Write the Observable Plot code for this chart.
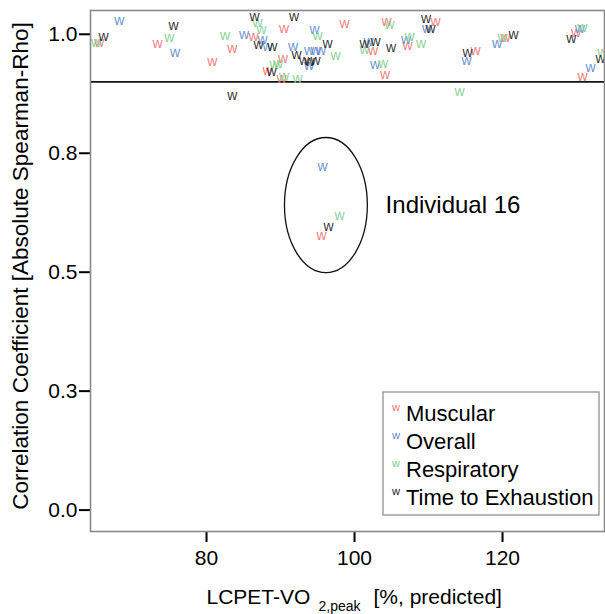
<!DOCTYPE html>
<html><head><meta charset="utf-8">
<script src="https://cdn.jsdelivr.net/npm/d3@7"></script>
<script src="https://cdn.jsdelivr.net/npm/@observablehq/plot@0.6"></script>
<style>
body{margin:0;background:#fff;}
#chart svg{font-family:"Liberation Sans",Arial,sans-serif;}
</style></head><body><div id="chart"></div>
<script>
// ---- data ----
const seriesNames = ["Muscular", "Overall", "Respiratory", "Time to Exhaustion"];
const seriesColors = ["#F07272", "#5B88CF", "#80CC8D", "#1a1a1a"];

const muscularX = [65.50, 73.38, 80.77, 83.47, 86.35, 88.24, 90.34, 90.47, 90.14, 98.65, 104.32, 102.50, 104.12, 107.16, 110.95, 116.35, 120.41, 129.93, 130.81, 95.54];
const muscularY = [0.983, 0.980, 0.942, 0.971, 0.995, 0.923, 0.950, 1.013, 0.908, 1.022, 1.027, 0.966, 0.915, 0.976, 1.026, 0.965, 0.994, 1.004, 0.912, 0.578];

const overallX = [68.20, 75.74, 85.07, 87.57, 88.24, 91.69, 93.85, 94.73, 95.47, 94.59, 93.85, 101.89, 102.77, 106.96, 109.80, 115.14, 119.26, 130.45, 131.89, 95.68];
const overallY = [1.028, 0.961, 0.999, 0.990, 0.975, 0.974, 0.966, 0.966, 0.966, 1.010, 0.934, 0.984, 0.936, 0.990, 1.012, 0.944, 0.981, 1.012, 0.930, 0.723];

const respiratoryX = [65.07, 74.97, 82.50, 86.89, 87.43, 95.00, 97.43, 89.19, 89.66, 90.47, 92.30, 104.73, 101.35, 103.85, 107.43, 108.99, 120.00, 130.77, 133.47, 114.19, 97.97];
const respiratoryY = [0.983, 0.994, 0.998, 1.025, 1.011, 0.998, 0.956, 0.936, 0.938, 0.911, 0.906, 1.020, 0.967, 0.938, 0.996, 0.981, 0.994, 1.014, 0.962, 0.880, 0.620];

const timeX = [66.08, 75.54, 86.49, 87.03, 88.88, 91.82, 92.16, 96.35, 93.18, 93.92, 94.73, 88.78, 83.47, 101.35, 102.84, 104.93, 109.66, 110.27, 115.27, 121.49, 129.28, 133.24, 96.49];
const timeY = [0.995, 1.018, 1.037, 0.979, 0.974, 1.037, 0.957, 0.980, 0.944, 0.942, 0.944, 0.922, 0.872, 0.981, 0.985, 0.972, 1.034, 1.012, 0.962, 0.999, 0.991, 0.950, 0.595];

const xTicks = [80, 100, 120];
const yTicks = [0, 0.25, 0.5, 0.75, 1.0];
const yTickLabels = ["0.0", "0.3", "0.5", "0.8", "1.0"];
const xDomain = [64.32, 133.78];
const yDomain = [-0.045, 1.05];
const thresholdY = 0.9;

const annotationText = "Individual 16";
const annotationX = 104.2, annotationY = 0.641;
const ellipseCX = 96.2, ellipseCY = 0.640, ellipseRX = 5.6, ellipseRY = 0.142;

const yTitle = "Correlation Coefficient [Absolute Spearman-Rho]";
const xTitleMain = "LCPET-VO", xTitleSub = "2,peak", xTitleRest = "[%, predicted]";

// ---- table ----
const seriesXY = [[muscularX, muscularY], [overallX, overallY], [respiratoryX, respiratoryY], [timeX, timeY]];
const rows = [];
seriesXY.forEach(([xs, ys], s) => xs.forEach((x, i) => rows.push({series: seriesNames[s], x, y: ys[i]})));

const plot = Plot.plot({
  width: 605, height: 614,
  marginLeft: 90, marginRight: 1, marginTop: 10, marginBottom: 83,
  style: {fontFamily: "Liberation Sans, Arial, sans-serif", fontSize: "21px", background: "white", color: "#000", overflow: "visible"},
  x: {domain: xDomain},
  y: {domain: yDomain},
  color: {domain: seriesNames, range: seriesColors},
  marks: [
    Plot.axisX({ticks: xTicks, tickSize: 11, tickPadding: 8, tickFormat: d => String(d), label: null, strokeWidth: 2, fontSize: 21}),
    Plot.axisY({ticks: yTicks, tickSize: 11, tickPadding: 2, tickFormat: d => yTickLabels[yTicks.indexOf(d)], label: null, strokeWidth: 2, fontSize: 21}),
    Plot.ruleY([thresholdY], {stroke: "#111", strokeWidth: 1.6}),
    Plot.text(rows, {x: "x", y: "y", text: () => "w", fill: "series", fontSize: 14, clip: true, fillOpacity: 0.92}),
    Plot.text([annotationText], {x: annotationX, y: annotationY, text: d => d, textAnchor: "start", fontSize: 24}),
    Plot.text([yTitle], {frameAnchor: "left", dx: -70, dy: -5, rotate: -90, textAnchor: "middle", text: d => d, fontSize: 22.5}),
    Plot.text([xTitleMain], {frameAnchor: "bottom", dx: -141, dy: 72, textAnchor: "start", text: d => d, fontSize: 21}),
    Plot.text([xTitleSub], {frameAnchor: "bottom", dx: -29, dy: 79, textAnchor: "start", text: d => d, fontSize: 14}),
    Plot.text([xTitleRest], {frameAnchor: "bottom", dx: 26, dy: 72, textAnchor: "start", text: d => d, fontSize: 21}),
    Plot.frame({stroke: "#8a8a8a", strokeWidth: 1.6})
  ]
});

// ellipse annotation via the plot's scales
const sx = plot.scale("x"), sy = plot.scale("y");
const svg = d3.select(plot);
svg.append("ellipse")
  .attr("cx", sx.apply(ellipseCX)).attr("cy", sy.apply(ellipseCY))
  .attr("rx", sx.apply(ellipseCX + ellipseRX) - sx.apply(ellipseCX))
  .attr("ry", sy.apply(ellipseCY - ellipseRY) - sy.apply(ellipseCY))
  .attr("fill", "none").attr("stroke", "#111").attr("stroke-width", 1.3);

// legend box
const lg = svg.append("g").attr("text-anchor", "start");
lg.append("rect").attr("x", 383).attr("y", 392).attr("width", 216).attr("height", 123)
  .attr("fill", "white").attr("stroke", "#999").attr("stroke-width", 1.4);
seriesNames.forEach((name, i) => {
  const cy = 413.5 + i * 28;
  lg.append("text").attr("x", 396).attr("y", cy - 6).attr("dy", "0.32em").attr("text-anchor", "middle")
    .attr("font-size", 11).attr("fill", seriesColors[i]).text("w");
  lg.append("text").attr("x", 406).attr("y", cy).attr("dy", "0.35em").attr("text-anchor", "start")
    .attr("font-size", 22).attr("fill", "#000").text(name);
});

document.getElementById("chart").appendChild(plot);
</script></body></html>
